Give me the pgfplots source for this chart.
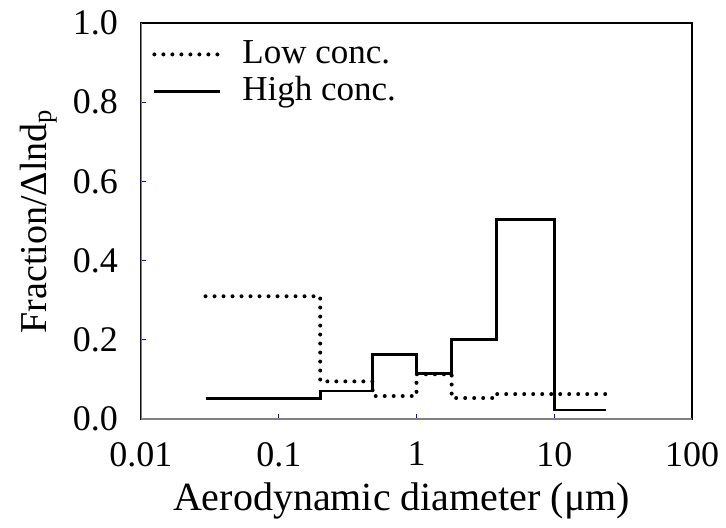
\documentclass[border=0pt]{standalone}
\usepackage{fontspec}
\setmainfont{Liberation Serif}
\usepackage{pgfplots}
\pgfplotsset{compat=1.18}
\usetikzlibrary{calc}
\begin{document}
\begin{tikzpicture}
\begin{axis}[
  scale only axis,
  width=275.5pt, height=198pt,
  xmode=log,
  xmin=0.01, xmax=100,
  ymin=0, ymax=1.0,
  xtick={0.01,0.1,1,10,100},
  xticklabels={0.01,0.1,1,10,100},
  ytick={0,0.2,0.4,0.6,0.8,1.0},
  yticklabel style={/pgf/number format/fixed, /pgf/number format/fixed zerofill, /pgf/number format/precision=1, xshift=-8pt},
  /pgf/number format/assume math mode=true,
  xminorticks=false, yminorticks=false,
  tick align=inside,
  xtick pos=bottom, ytick pos=left,
  major tick length=2.5pt,
  tick style={blue, line width=0.5pt},
  ticklabel style={font=\fontsize{18}{20}\selectfont},
  xticklabel style={yshift=-8pt},
  xlabel={Aerodynamic diameter (μm)},
  ylabel={Fraction/Δlnd$_\mathrm{p}$},
  label style={font=\fontsize{20}{22}\selectfont},
  xlabel style={at={(rel axis cs:0.5,0)}, anchor=base, yshift=-45.5pt, xshift=-7.5pt},
  ylabel style={at={($(rel axis cs:0,0.5)+(-41.5pt,0pt)$)}, anchor=south, inner sep=0pt, font=\fontsize{19}{21}\selectfont},
  axis line style={black, line width=0.6pt},
  legend style={draw=none, fill=none, at={(rel axis cs:0,1)}, anchor=north west,
    xshift=5.5pt, yshift=-6.5pt, inner sep=0pt,
    font=\fontsize{17.5}{19}\selectfont, row sep=0.5pt,
    nodes={text height=12.5pt, text depth=3.5pt, inner sep=1pt}},
  legend cell align=left,
  legend image code/.code={\draw[#1] (0pt,0pt) -- (33pt,0pt); \path[draw=none,fill=none] (0pt,0pt) (43pt,0pt);},
]
\addplot[const plot, black, line width=2pt, line cap=round, dash pattern=on 0pt off 4.5pt] coordinates {
(0.0294,0.31) (0.2,0.095) (0.48,0.058) (1.0,0.113) (1.8,0.053) (3.8,0.063) (10,0.063) (23.8,0.063)
};
\addlegendentry{Low conc.}
\addplot[const plot, black, line width=1.35pt] coordinates {
(0.0294,0.052) (0.2,0.071) (0.48,0.163) (1.0,0.115) (1.8,0.2) (3.8,0.504) (10,0.023) (23.8,0.023)
};
\addlegendentry{High conc.}
\draw[gray, line width=0.8pt] (rel axis cs:0,1) -- (rel axis cs:0,0) -- (rel axis cs:1,0);
\end{axis}
\path (current axis.south west) ++(-70.5pt,-54pt);
\path (current axis.north east) ++(17pt,11.5pt);
\end{tikzpicture}
\end{document}
